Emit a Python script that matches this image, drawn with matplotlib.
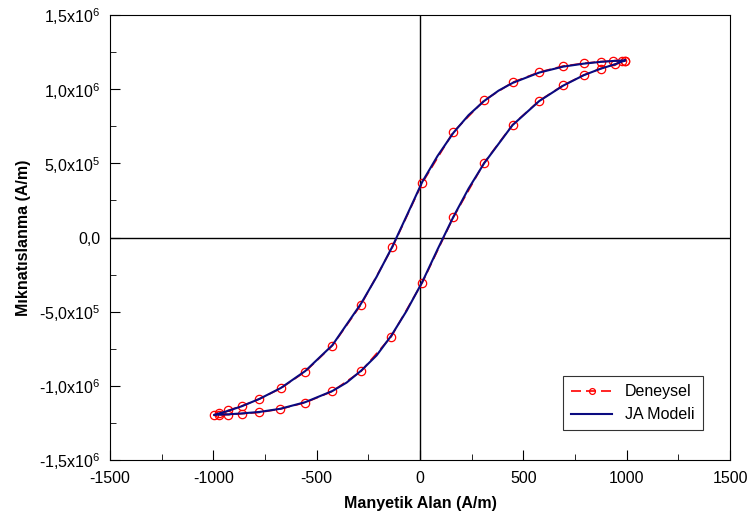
import matplotlib
matplotlib.use("Agg")
import matplotlib.pyplot as plt
from matplotlib.ticker import MultipleLocator, FuncFormatter

plt.rcParams['font.family'] = ['Liberation Sans', 'DejaVu Sans']
plt.rcParams['mathtext.fontset'] = 'custom'
plt.rcParams['mathtext.rm'] = 'Liberation Sans'
plt.rcParams['axes.unicode_minus'] = False

# experimental loop (descending branch then ascending branch)
H_exp = [992, 979, 934, 874, 792, 693, 577, 448, 310, 161, 11, -134, -285, -424, -555,
         -674, -777, -863, -927, -971, -997,
         -971, -927, -863, -777, -677, -555, -424, -285, -139, 11, 161, 310, 448, 577,
         693, 792, 874, 945, 992]
M_exp = [1.192e6, 1.192e6, 1.190e6, 1.186e6, 1.174e6, 1.156e6, 1.115e6, 1.046e6, 0.924e6,
         0.711e6, 0.368e6, -0.067e6, -0.452e6, -0.729e6, -0.904e6, -1.017e6, -1.089e6,
         -1.136e6, -1.165e6, -1.186e6, -1.199e6,
         -1.197e6, -1.194e6, -1.188e6, -1.179e6, -1.157e6, -1.113e6, -1.037e6, -0.902e6,
         -0.668e6, -0.304e6, 0.135e6, 0.503e6, 0.760e6, 0.922e6, 1.026e6, 1.095e6,
         1.138e6, 1.169e6, 1.192e6]

# JA model curve
H_ja = [992, 934, 874, 792, 693, 577, 448, 380, 310, 235, 161, 85, 11, -60, -134, -210,
        -285, -424, -555, -674, -777, -863, -927, -997,
        -927, -863, -777, -677, -555, -424, -355, -285, -210, -139, -65, 11, 85, 161,
        235, 310, 448, 577, 693, 792, 874, 945, 992]
M_ja = [1.194e6, 1.190e6, 1.184e6, 1.172e6, 1.152e6, 1.112e6, 1.042e6, 0.990e6, 0.920e6,
        0.825e6, 0.705e6, 0.550e6, 0.375e6, 0.160e6, -0.062e6, -0.265e6, -0.445e6,
        -0.726e6, -0.900e6, -1.015e6, -1.088e6, -1.138e6, -1.168e6, -1.196e6,
        -1.192e6, -1.186e6, -1.176e6, -1.155e6, -1.110e6, -1.035e6, -0.978e6, -0.898e6,
        -0.795e6, -0.662e6, -0.495e6, -0.300e6, -0.080e6, 0.138e6, 0.330e6, 0.500e6,
        0.758e6, 0.920e6, 1.024e6, 1.094e6, 1.138e6, 1.168e6, 1.194e6]

x_ticks = [-1500, -1000, -500, 0, 500, 1000, 1500]
y_tick_labels = {1.5e6: r'1,5x10$^{6}$', 1.0e6: r'1,0x10$^{6}$', 5e5: r'5,0x10$^{5}$',
                 0: '0,0', -5e5: r'-5,0x10$^{5}$', -1.0e6: r'-1,0x10$^{6}$',
                 -1.5e6: r'-1,5x10$^{6}$'}

fig = plt.figure(figsize=(7.51, 5.2), dpi=100)
ax = fig.add_axes([110/751, 60/520, 620/751, 445/520])

ax.axhline(0, color='black', lw=1.0, zorder=1)
ax.axvline(0, color='black', lw=1.0, zorder=1)

ax.plot(H_exp, M_exp, color='red', ls=(0, (6, 3)), lw=1.2, marker='o', ms=6,
        mfc='none', mec='red', mew=0.9, label='Deneysel', zorder=3)
ax.plot(H_ja, M_ja, color='#0a0a80', lw=1.5, label='JA Modeli', zorder=4)

ax.set_xlim(-1500, 1500)
ax.set_ylim(-1.5e6, 1.5e6)
ax.set_xticks(x_ticks)
ax.xaxis.set_minor_locator(MultipleLocator(250))
ax.yaxis.set_major_locator(MultipleLocator(5e5))
ax.yaxis.set_minor_locator(MultipleLocator(2.5e5))
ax.yaxis.set_major_formatter(FuncFormatter(lambda v, p: y_tick_labels.get(round(v), '')))
ax.tick_params(which='both', direction='in', top=False, right=False, labelsize=11.5)
ax.tick_params(axis='x', which='major', pad=8)
ax.tick_params(axis='y', which='major', pad=7)
ax.tick_params(which='major', length=7)
ax.tick_params(which='minor', length=4)

ax.set_xlabel('Manyetik Alan (A/m)', fontsize=11.5, fontweight='bold', labelpad=7)
ax.set_ylabel('Mıknatıslanma (A/m)', fontsize=11.5, fontweight='bold', labelpad=6)

leg = ax.legend(loc='lower right', bbox_to_anchor=(0.956, 0.067), borderaxespad=0,
                fontsize=11.5, frameon=True, fancybox=False, handlelength=2.6,
                markerscale=0.7, borderpad=0.5, labelspacing=0.5)
leg.get_frame().set_edgecolor('black')
leg.get_frame().set_linewidth(0.8)

fig.savefig('out.png', dpi=100)
